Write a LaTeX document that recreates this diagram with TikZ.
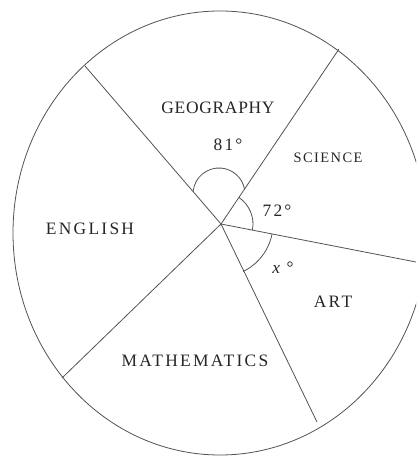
\documentclass[tikz,border=0pt]{standalone}
\usepackage{fontspec}
\setmainfont{Liberation Serif}
\newfontfamily\lblfont[LetterSpace=13]{Liberation Serif}
\newfontfamily\scifont[LetterSpace=10]{Liberation Serif}
\newfontfamily\geofont[LetterSpace=4]{Liberation Serif}
\usetikzlibrary{calc}
\begin{document}
\begin{tikzpicture}[x=1bp,y=1bp,
  edge/.style={draw=black!68, line width=0.8bp},
  lbl/.style={text=black!85, inner sep=0pt, font=\lblfont\fontsize{17.5}{20}\selectfont},
  geolbl/.style={lbl, font=\geofont\fontsize{17.5}{20}\selectfont},
  scilbl/.style={lbl, font=\scifont\fontsize{14.5}{17}\selectfont},
]
\useasboundingbox (0,0) rectangle (416,457);
\begin{scope}
\clip (0,0) rectangle (416,457);
\coordinate (O) at (220,224);
\draw[edge] (O) ellipse [x radius=207, y radius=222];
\coordinate (C) at (221,233);
\coordinate (E1) at (85,391);
\coordinate (E2) at (339,408);
\coordinate (E3) at (420,194.2);
\coordinate (E4) at (317,35);
\coordinate (E5) at (62,79);
\draw[edge] (C) -- (E1);
\draw[edge] (C) -- (E2);
\draw[edge] (C) -- (E3);
\draw[edge] (C) -- (E4);
\draw[edge] (C) -- (E5);
% angle arcs
\coordinate (A81) at (219,263);
\draw[edge] ($(A81)+(174.7:26)$) arc[start angle=174.7, end angle=10.7, radius=26];
\draw[edge] ($(C)+(55.9:32)$) arc[start angle=55.9, end angle=-11, radius=32];
\draw[edge] ($(C)+(-11:52)$) arc[start angle=-11, end angle=-64.1, radius=53];
\end{scope}
% labels
\node[geolbl] (geo) at (218,349) {GEOGRAPHY};
\node[lbl] (a81) at (228,312) {81°};
\node[scilbl] (sci) at (328,299) {SCIENCE};
\node[lbl] (a72) at (277,246) {72°};
\node[lbl] (eng) at (90,228) {ENGLISH};
\node[lbl] (ax) at (283,189) {{\itshape x} °};
\node[lbl] (art) at (333,155) {ART};
\node[lbl] (mat) at (195,96) {MATHEMATICS};
\end{tikzpicture}
\end{document}
